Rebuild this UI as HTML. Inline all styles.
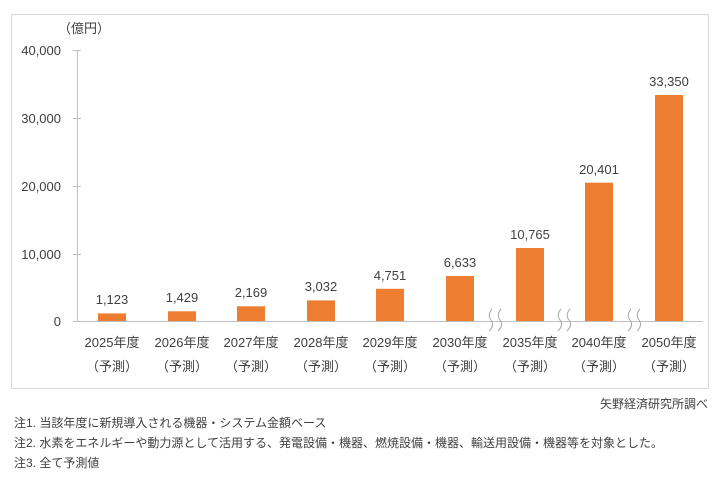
<!DOCTYPE html>
<html><head><meta charset="utf-8"><style>
body{margin:0;background:#fff;}
svg text{font-family:"Liberation Sans","Noto Sans CJK JP",sans-serif;fill:#404040;}
</style></head><body>
<svg width="720" height="489" xmlns="http://www.w3.org/2000/svg">
<rect x="11.5" y="14.5" width="697" height="374" fill="#fff" stroke="#d9d9d9"/>
<text x="58" y="33" font-size="13">（億円）</text>
<g font-size="13" text-anchor="end">
<text x="61" y="55">40,000</text>
<text x="61" y="123">30,000</text>
<text x="61" y="191">20,000</text>
<text x="61" y="259">10,000</text>
<text x="61" y="326">0</text>
</g>
<g stroke="#bfbfbf" stroke-width="1">
<line x1="77.5" y1="50" x2="77.5" y2="321"/>
<line x1="73" y1="50.5" x2="81" y2="50.5"/>
<line x1="73" y1="118.5" x2="81" y2="118.5"/>
<line x1="73" y1="186.5" x2="81" y2="186.5"/>
<line x1="73" y1="254.5" x2="81" y2="254.5"/>
<line x1="73" y1="321.5" x2="703" y2="321.5"/>
</g>
<g fill="#ed7d31">
<rect x="98" y="313.4" width="28" height="7.6"/>
<rect x="168" y="311.3" width="28" height="9.7"/>
<rect x="237" y="306.3" width="28" height="14.7"/>
<rect x="307" y="300.4" width="28" height="20.6"/>
<rect x="376" y="288.8" width="28" height="32.2"/>
<rect x="446" y="276" width="28" height="45"/>
<rect x="516" y="248" width="28" height="73"/>
<rect x="585" y="182.7" width="28" height="138.3"/>
<rect x="655" y="95" width="28" height="226"/>
</g>
<g fill="none" stroke="#a6a6a6" stroke-width="1">
<path d="M492 309 q-5 6 -1 11 q4 5 -2 11"/><path d="M501 309 q-5 6 -1 11 q4 5 -2 11"/>
<path d="M561 309 q-5 6 -1 11 q4 5 -2 11"/><path d="M570 309 q-5 6 -1 11 q4 5 -2 11"/>
<path d="M631 309 q-5 6 -1 11 q4 5 -2 11"/><path d="M640 309 q-5 6 -1 11 q4 5 -2 11"/>
</g>
<g font-size="13" text-anchor="middle">
<text x="112" y="304">1,123</text>
<text x="182" y="302">1,429</text>
<text x="251" y="297">2,169</text>
<text x="321" y="291">3,032</text>
<text x="390" y="280">4,751</text>
<text x="460" y="267">6,633</text>
<text x="530" y="239">10,765</text>
<text x="599" y="174">20,401</text>
<text x="669" y="86">33,350</text>
</g>
<g font-size="13" text-anchor="middle">
<text x="112" y="347">2025年度</text><text x="112" y="371">（予測）</text>
<text x="182" y="347">2026年度</text><text x="182" y="371">（予測）</text>
<text x="251" y="347">2027年度</text><text x="251" y="371">（予測）</text>
<text x="321" y="347">2028年度</text><text x="321" y="371">（予測）</text>
<text x="390" y="347">2029年度</text><text x="390" y="371">（予測）</text>
<text x="460" y="347">2030年度</text><text x="460" y="371">（予測）</text>
<text x="530" y="347">2035年度</text><text x="530" y="371">（予測）</text>
<text x="599" y="347">2040年度</text><text x="599" y="371">（予測）</text>
<text x="669" y="347">2050年度</text><text x="669" y="371">（予測）</text>
</g>
<text x="708" y="408" font-size="12" text-anchor="end">矢野経済研究所調べ</text>
<g font-size="12">
<text x="14" y="427">注1.  当該年度に新規導入される機器・システム金額ベース</text>
<text x="14" y="447">注2.  水素をエネルギーや動力源として活用する、発電設備・機器、燃焼設備・機器、輸送用設備・機器等を対象とした。</text>
<text x="14" y="467">注3.  全て予測値</text>
</g>
</svg>
</body></html>
